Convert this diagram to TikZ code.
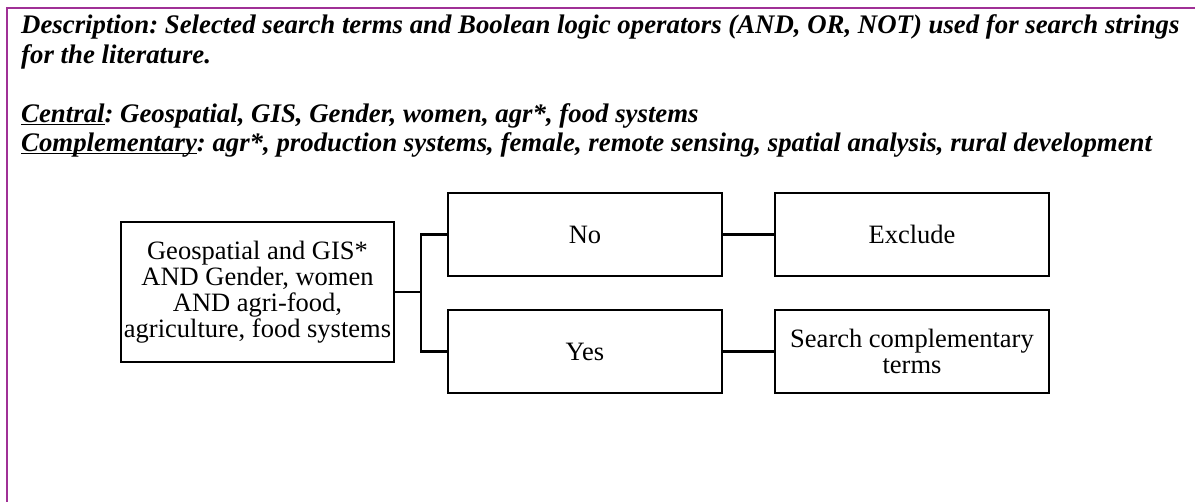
\documentclass[tikz,border=0pt]{standalone}
\usepackage{fontspec}
\setmainfont{Liberation Serif}
\frenchspacing
\definecolor{framepurple}{RGB}{160,48,150}
\newcommand{\ulword}[1]{\underline{\smash{#1}}}
\begin{document}
\begin{tikzpicture}[x=1pt,y=-1pt,
    termbox/.style={draw,line width=2.4pt,inner sep=0pt,align=center,
      font=\fontsize{26.5}{26}\selectfont},
    headline/.style={anchor=base west,inner sep=0pt,
      font=\fontsize{26.8}{29}\selectfont\bfseries\itshape}]
      \useasboundingbox (0,0) rectangle (1195,502);

      % frame
      \draw [framepurple,line width=2.2pt] (7,502) -- (7,8) -- (1195,8);

      % description text
      \node [headline] (desc1) at (21,34) {Description: Selected search terms and Boolean logic operators (AND, OR, NOT) used for search strings};
      \node [headline] (desc2) at (21,63.5) {for the literature.};
      \node [headline] (central) at (21,122.5) {\ulword{Central}: Geospatial, GIS, Gender, women, agr*, food systems};
      \node [headline] (compl) at (21,152) {\ulword{Complementary}: agr*, production systems, female, remote sensing, spatial analysis, rural development};

      % boxes
      \node [termbox,minimum width=273pt,minimum height=140pt] (query) at (257.5,292)
        {Geospatial and GIS*\\AND Gender, women\\AND agri-food,\\agriculture, food systems};
      \node [termbox,minimum width=274pt,minimum height=83pt] (no) at (585,234.5) {No};
      \node [termbox,minimum width=274pt,minimum height=83pt] (exclude) at (912,234.5) {Exclude};
      \node [termbox,minimum width=274pt,minimum height=83pt] (yes) at (585,351.5) {Yes};
      \node [termbox,minimum width=274pt,minimum height=83pt] (search) at (912,351.5)
        {Search complementary\\terms};

      % connectors
      \coordinate (split) at (421,292);
      \draw [line width=2.2pt] (query.east) -- (split);
      \draw [line width=2.2pt] (no.west) -| (split) |- (yes.west);
      \draw [line width=2.2pt] (no.east) -- (exclude.west);
      \draw [line width=2.2pt] (yes.east) -- (search.west);
    \end{tikzpicture}
\end{document}
